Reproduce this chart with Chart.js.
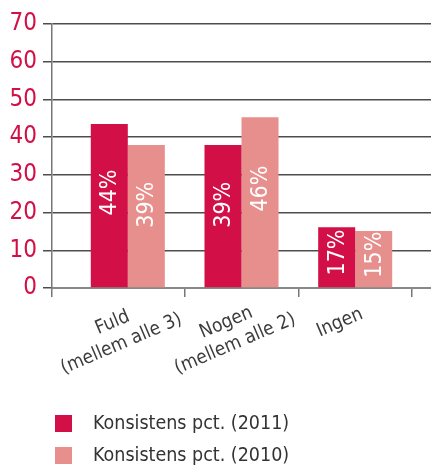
<!DOCTYPE html>
<html>
<head>
<meta charset="utf-8">
<script src="https://cdn.jsdelivr.net/npm/chart.js@4.4.1/dist/chart.umd.min.js"></script>
<style>
    html, body { margin: 0; padding: 0; background: #fff; }
    #wrap { width: 431px; height: 468px; position: relative; }
</style>
</head>
<body>
<div id="wrap"><canvas id="chart"></canvas></div>
<script>
// Data
const categories = [['Fuld', '(mellem alle 3)'], ['Nogen', '(mellem alle 2)'], ['Ingen']];
const seriesNames = ['Konsistens pct. (2011)', 'Konsistens pct. (2010)'];
const values2011 = [43.5, 37.9, 16.1];
const values2010 = [37.9, 45.3, 15.1];
const valueLabels2011 = ['44%', '39%', '17%'];
const valueLabels2010 = ['39%', '46%', '15%'];
const yTicks = [0, 10, 20, 30, 40, 50, 60, 70];

const FONT = '"DejaVu Sans Condensed", "Liberation Sans Narrow", sans-serif';
const DARK = '#d20f46';
const LIGHT = '#e78f8d';

// categories sit at x = 1, 2, 3 on a linear axis so the plot can run wider than the groups
const toPoints = (vals) => vals.map((v, i) => ({ x: i + 1, y: v }));

// white rotated labels inside the bars
const barLabels = {
    id: 'barLabels',
    afterDatasetsDraw(chart) {
        const ctx = chart.ctx;
        const texts = [valueLabels2011, valueLabels2010];
        ctx.save();
        ctx.fillStyle = '#fff';
        ctx.font = '23px ' + FONT;
        ctx.textAlign = 'center';
        ctx.textBaseline = 'middle';
        chart.data.datasets.forEach((ds, d) => {
            chart.getDatasetMeta(d).data.forEach((bar, i) => {
                const y = bar.y + 0.42 * (bar.base - bar.y);
                ctx.save();
                ctx.translate(bar.x, y);
                ctx.rotate(-Math.PI / 2);
                ctx.fillText(texts[d][i], 0, 1);
                ctx.restore();
            });
        });
        ctx.restore();
    }
};

// rotated, centred category labels under the x axis
const categoryLabels = {
    id: 'categoryLabels',
    afterDraw(chart) {
        const ctx = chart.ctx;
        const xs = chart.scales.x;
        const lh = 23;
        const angle = -23 * Math.PI / 180;
        ctx.save();
        ctx.fillStyle = '#3c3c3c';
        ctx.font = '19px ' + FONT;
        ctx.textAlign = 'center';
        ctx.textBaseline = 'top';
        categories.forEach((lines, i) => {
            const x = xs.getPixelForValue(i + 1) - 19;
            const y = xs.top + 26;
            ctx.save();
            ctx.translate(x, y);
            ctx.rotate(angle);
            lines.forEach((t, k) => ctx.fillText(t, 0, k * lh));
            ctx.restore();
        });
        ctx.restore();
    }
};

// vertical legend at the bottom
const sideLegend = {
    id: 'sideLegend',
    afterDraw(chart) {
        const ctx = chart.ctx;
        ctx.save();
        ctx.font = '19.5px ' + FONT;
        ctx.textBaseline = 'middle';
        chart.data.datasets.forEach((ds, i) => {
            const top = 415 + i * 32;
            ctx.fillStyle = ds.backgroundColor;
            ctx.fillRect(55, top, 17, 17);
            ctx.fillStyle = '#333';
            ctx.fillText(ds.label, 93, top + 9);
        });
        ctx.restore();
    }
};

new Chart(document.getElementById('chart'), {
    type: 'bar',
    data: {
        datasets: [
            { label: seriesNames[0], data: toPoints(values2011), backgroundColor: DARK },
            { label: seriesNames[1], data: toPoints(values2010), backgroundColor: LIGHT },
        ],
    },
    options: {
        responsive: true,
        maintainAspectRatio: false,
        animation: false,
        categoryPercentage: 0.651,
        barPercentage: 1,
        layout: { padding: { top: 24, left: 0, right: 0, bottom: 0 } },
        plugins: {
            legend: { display: false },
            tooltip: { enabled: false },
        },
        scales: {
            x: {
                type: 'linear',
                min: 1 / 3,
                max: 11 / 3,
                offset: false,
                afterBuildTicks: (scale) => {
                    scale.ticks = [scale.min, 1.5, 2.5, 3.5].map((v) => ({ value: v }));
                },
                afterFit: (scale) => { scale.height = 180; },
                ticks: { display: false },
                grid: {
                    offset: false,
                    drawOnChartArea: false,
                    tickLength: 9,
                    color: '#777',
                    lineWidth: 1.5,
                },
                border: { color: '#888', width: 2 },
            },
            y: {
                min: 0,
                max: 70,
                afterBuildTicks: (scale) => {
                    scale.ticks = yTicks.map((v) => ({ value: v }));
                },
                afterFit: (scale) => { scale.width = 52; },
                ticks: {
                    color: DARK,
                    padding: 6,
                    font: { family: FONT, size: 24 },
                },
                grid: {
                    color: '#4d4d4d',
                    lineWidth: 1.5,
                    tickLength: 9,
                },
                border: { color: '#777', width: 1.5 },
            },
        },
    },
    plugins: [barLabels, categoryLabels, sideLegend],
});
</script>
</body>
</html>
